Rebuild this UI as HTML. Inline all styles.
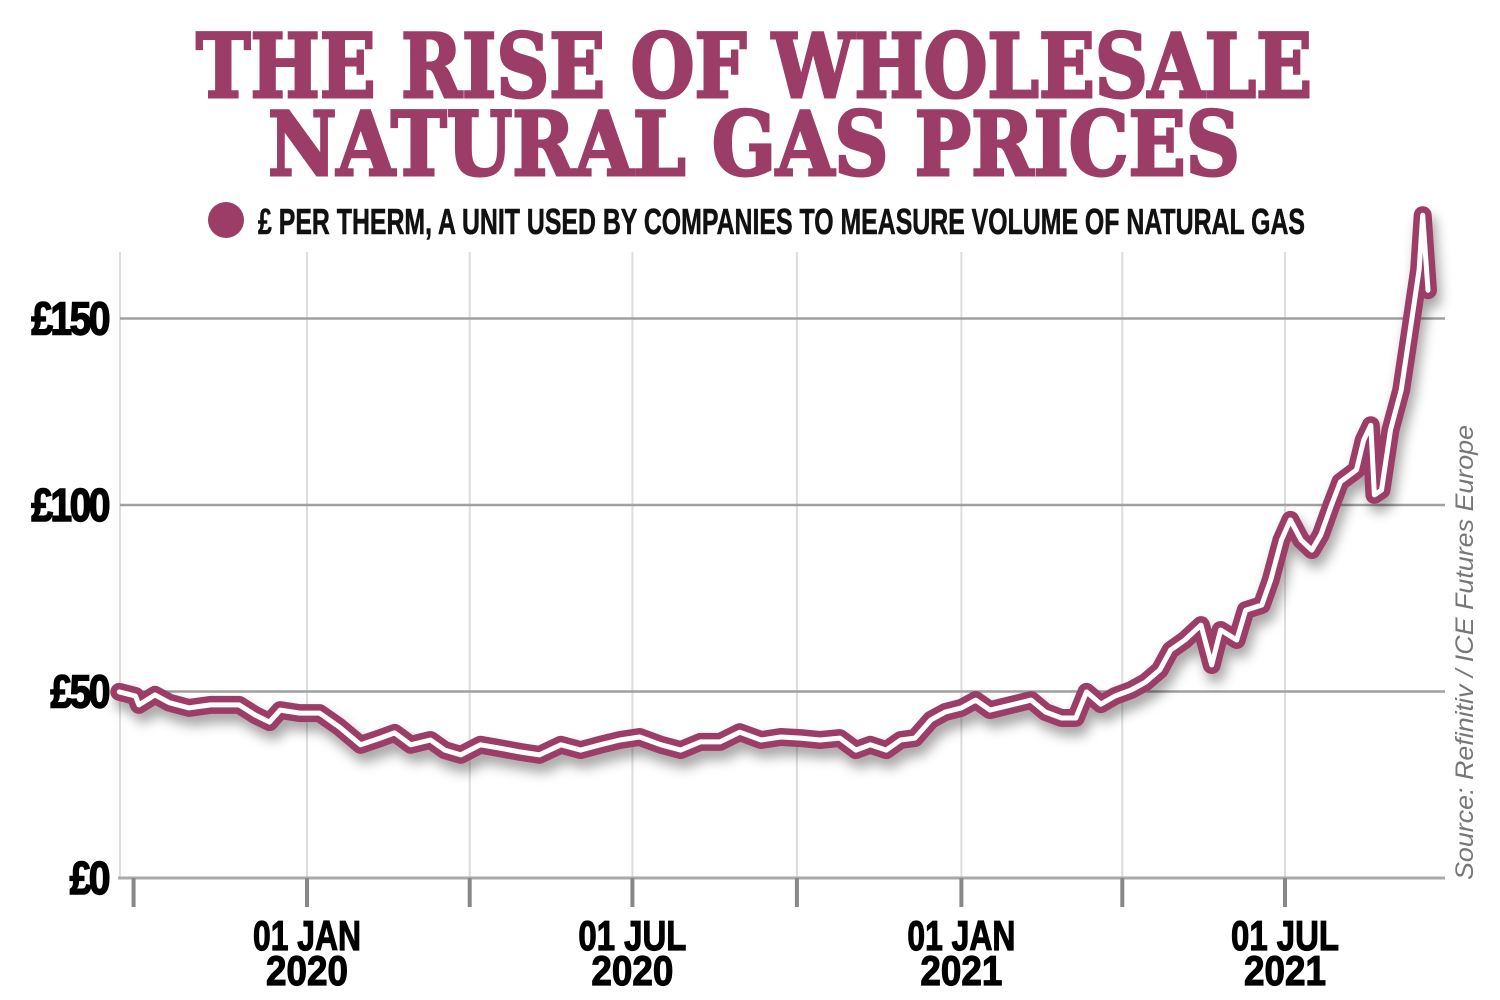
<!DOCTYPE html>
<html><head><meta charset="utf-8"><style>
html,body{margin:0;padding:0;background:#fff;}
svg{display:block;}
</style></head><body>
<svg id="chart" width="1500" height="1000" viewBox="0 0 1500 1000" xmlns="http://www.w3.org/2000/svg">
<defs>
<filter id="sh" x="-10%" y="-10%" width="120%" height="130%"><feDropShadow dx="4" dy="9" stdDeviation="6" flood-color="#000" flood-opacity="0.35"/></filter>
</defs>
<g font-family="'DejaVu Serif', 'Liberation Serif', serif" font-weight="bold" fill="#9b3d66" stroke="#9b3d66" stroke-width="3">
<text x="196" y="97" font-size="88" textLength="1116" lengthAdjust="spacingAndGlyphs">THE RISE OF WHOLESALE</text>
<text x="268" y="175" font-size="88" textLength="972" lengthAdjust="spacingAndGlyphs">NATURAL GAS PRICES</text>
</g>
<g>
<circle cx="226" cy="220" r="18" fill="#9b3d66"/>
<text x="258" y="234" font-family="'Liberation Sans', sans-serif" font-weight="bold" font-size="36" fill="#111" stroke="#111" stroke-width="0.6" textLength="1047" lengthAdjust="spacingAndGlyphs">£ PER THERM, A UNIT USED BY COMPANIES TO MEASURE VOLUME OF NATURAL GAS</text>
</g>
<g id="grid"></g>
<g id="axes"></g>
<g id="series"></g>
<text transform="translate(1473,880) rotate(-90)" font-family="'Liberation Sans', sans-serif" font-style="italic" font-size="25" fill="#777" textLength="455" lengthAdjust="spacingAndGlyphs">Source: Refinitiv / ICE Futures Europe</text>
</svg>
<script>
// days since 01 Jan 2020
const days = [-105,-96,-94,-85,-77,-66,-54,-38,-29,-21,-15,-4,7,18,30,41,49,58,69,77,86,97,108,119,130,142,153,164,175,186,198,209,220,231,242,254,265,276,287,298,307,315,324,332,340,349,357,366,374,382,394,405,413,422,430,436,444,452,461,469,477,483,491,500,506,511,520,525,534,539,545,550,556,562,567,573,578,587,591,595,597,601,606,612,617,622,624,627];
const prices = [49.9,48.8,46.4,49.1,47.0,45.6,46.4,46.4,43.7,41.8,45.0,44.2,44.2,40.5,35.7,37.5,38.9,35.7,37.0,34.3,33.0,35.7,34.8,33.8,33.0,35.7,34.3,35.7,37.0,37.8,35.7,34.3,36.5,36.5,39.1,37.0,37.8,37.5,37.0,37.5,34.3,35.7,34.3,37.0,37.5,42.4,44.5,45.6,47.7,45.0,46.4,47.7,44.5,42.9,42.9,49.9,46.6,48.8,50.4,52.5,55.8,61.1,63.8,67.8,57.1,66.5,63.8,71.8,73.2,79.9,90.6,96.0,90.6,87.9,92.0,100.0,106.2,109.4,117.4,121.4,102.7,104.0,120.1,130.8,146.9,163.0,177.7,157.6];
const yTicks = [0,50,100,150];
const yTickLabels = ['£0','£50','£100','£150'];
const xLabelDays = [0,182,366,547];
const xLabelLine1 = ['01 JAN','01 JUL','01 JAN','01 JUL'];
const xLabelLine2 = ['2020','2020','2021','2021'];
const xTickDays = [-97,0,91,182,274,366,456,547];

const NS='http://www.w3.org/2000/svg';
const X = d => 307 + d*(978/547);
const Y = v => 878 - v*3.73;
function mk(tag, attrs, parent){const e=document.createElementNS(NS,tag);for(const k in attrs)e.setAttribute(k,attrs[k]);parent.appendChild(e);return e;}
const grid=document.getElementById('grid'), axes=document.getElementById('axes'), series=document.getElementById('series');

mk('line',{x1:120,x2:120,y1:252,y2:878,stroke:'#ddd','stroke-width':2},grid);
xTickDays.slice(1).forEach(d=>{
  const l=mk('line',{x1:X(d),x2:X(d),y1:252,y2:878,stroke:'#ddd','stroke-width':2},grid);
  
  
});
yTicks.forEach((v,i)=>{
  if(v>0){
    const l=mk('line',{x1:120,x2:1445,y1:Y(v),y2:Y(v),stroke:'#a0a0a0','stroke-width':2.5},grid);
    
    
  }
  const t=mk('text',{x:0,y:0,transform:'translate(108,'+(Y(v)+16)+') scale(0.85,1)','text-anchor':'end','font-family':"'Liberation Sans', sans-serif",'font-weight':'bold','font-size':46,fill:'#000',stroke:'#000','stroke-width':1.5,'letter-spacing':-3},axes);
  
  
  t.textContent=yTickLabels[i];
});
const base=mk('line',{x1:118,x2:1445,y1:878,y2:878,stroke:'#aaa','stroke-width':3},axes);


xTickDays.forEach(d=>{
  const l=mk('line',{x1:X(d),x2:X(d),y1:878,y2:907,stroke:'#888','stroke-width':4},axes);
  
  
});
xLabelDays.forEach((d,i)=>{
  const a={'text-anchor':'middle','font-family':"'Liberation Sans', sans-serif",'font-weight':'bold','font-size':42,fill:'#000',stroke:'#000','stroke-width':1.2,lengthAdjust:'spacingAndGlyphs'};
  const t1=mk('text',Object.assign({x:X(d),y:950,textLength:108},a),axes);
  
  
  t1.textContent=xLabelLine1[i];
  const t2=mk('text',Object.assign({x:X(d),y:985,textLength:82},a),axes);
  
  
  t2.textContent=xLabelLine2[i];
});
const pts=days.map((d,i)=>X(d).toFixed(1)+','+Y(prices[i]).toFixed(1)).join(' ');
const outer=mk('polyline',{points:pts,fill:'none',stroke:'#9b3d66','stroke-width':18,'stroke-linejoin':'round','stroke-linecap':'round',filter:'url(#sh)'},series);


const inner=mk('polyline',{points:pts,fill:'none',stroke:'#fff','stroke-width':5,'stroke-linejoin':'round','stroke-linecap':'round'},series);


</script>
</body></html>
